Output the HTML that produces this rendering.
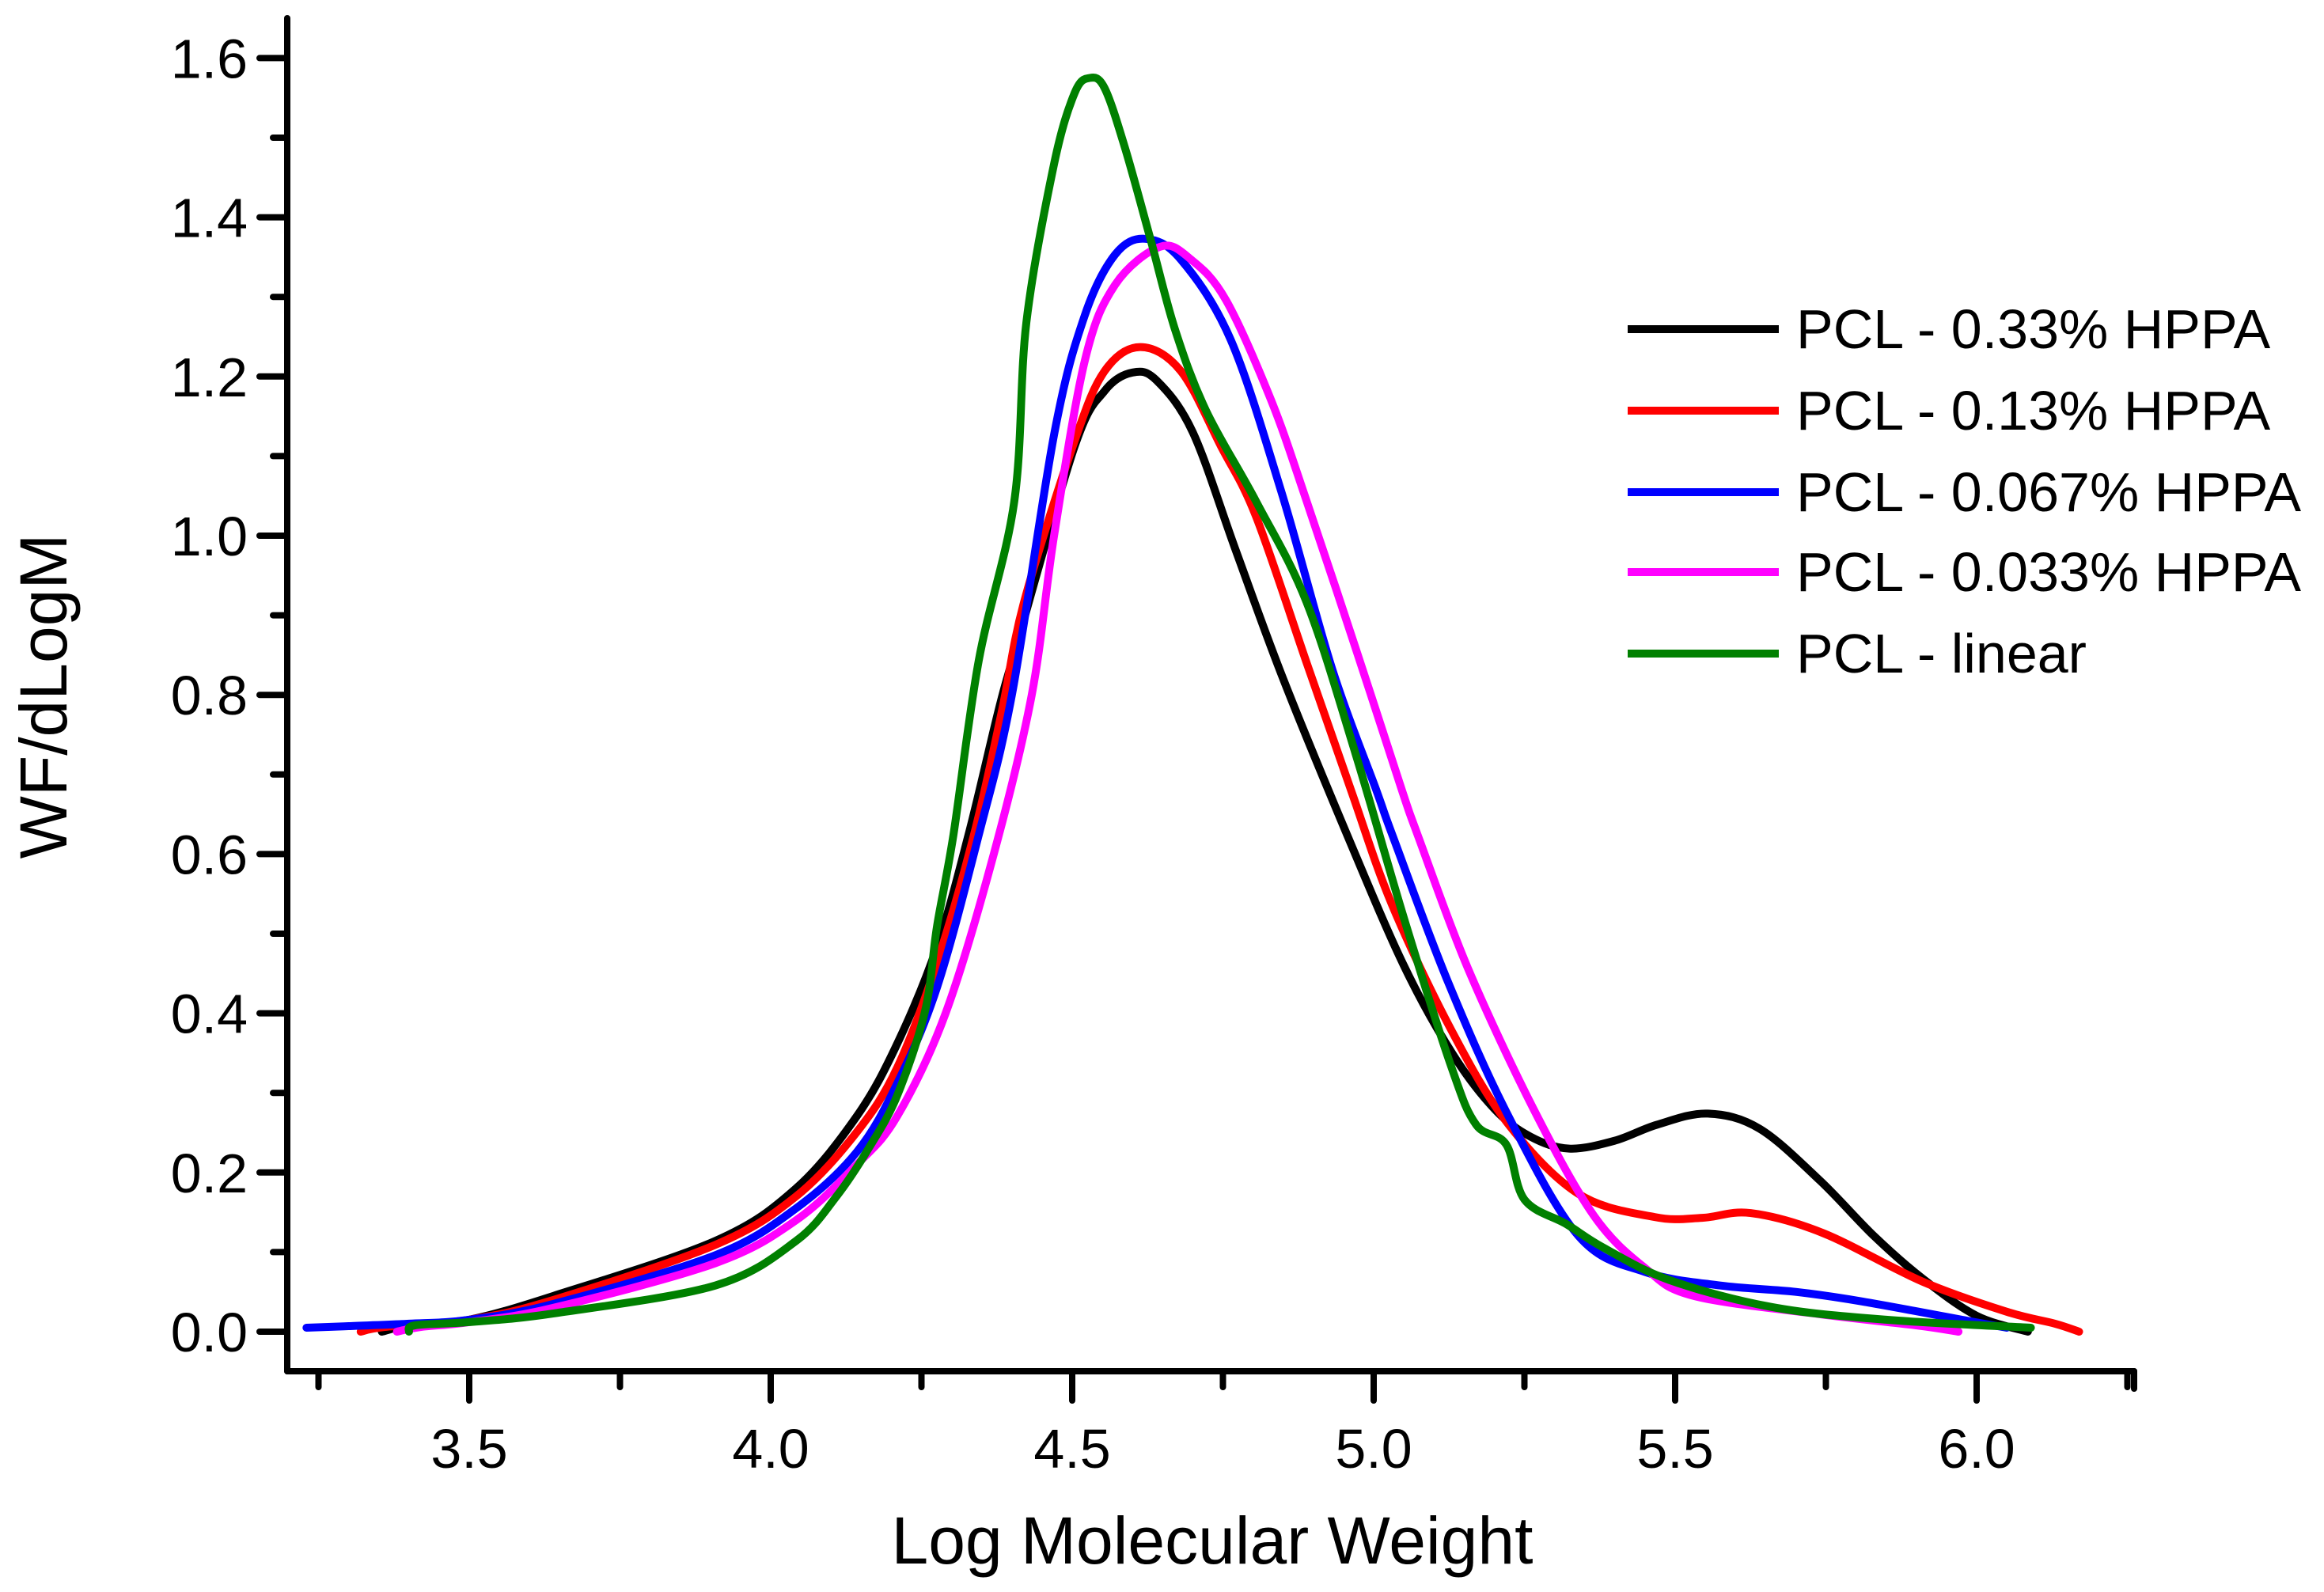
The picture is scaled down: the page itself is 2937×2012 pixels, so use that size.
<!DOCTYPE html>
<html><head><meta charset="utf-8"><style>
html,body{margin:0;padding:0;background:#fff;}
svg{display:block;}
text{font-family:"Liberation Sans",Arial,sans-serif;fill:#000;}
</style></head><body>
<svg id="chart" width="2937" height="2012" viewBox="0 0 2937 2012" xmlns="http://www.w3.org/2000/svg">
<g id="axes"></g>
<g id="series"></g>
<g id="legend"></g>
<text x="1532" y="1976" font-size="84" text-anchor="middle">Log Molecular Weight</text>
<text x="0" y="0" font-size="84" text-anchor="middle" transform="translate(84,880) rotate(-90)">WF/dLogM</text>
</svg>
<script>
const xTicks=[3.5,4.0,4.5,5.0,5.5,6.0];
const xTickLabels=["3.5","4.0","4.5","5.0","5.5","6.0"];
const yTicks=[0,0.2,0.4,0.6,0.8,1.0,1.2,1.4,1.6];
const yTickLabels=["0.0","0.2","0.4","0.6","0.8","1.0","1.2","1.4","1.6"];
const seriesNames=["PCL - 0.33% HPPA","PCL - 0.13% HPPA","PCL - 0.067% HPPA","PCL - 0.033% HPPA","PCL - linear"];
const seriesColors=["#000000","#ff0000","#0000ff","#ff00ff","#008000"];
const blackX=[3.355,3.4,3.5,3.64,3.908,4.042,4.143,4.21,4.276,4.328,4.377,4.404,4.504,4.554,4.6,4.64,4.7,4.772,4.85,4.956,5.05,5.13,5.2,5.26,5.324,5.4,5.47,5.554,5.64,5.74,5.83,5.91,6.0,6.085];
const blackY=[0,0.008,0.015,0.045,0.114,0.18,0.271,0.362,0.484,0.624,0.778,0.852,1.112,1.182,1.205,1.195,1.13,0.98,0.82,0.624,0.46,0.35,0.28,0.245,0.23,0.24,0.26,0.274,0.255,0.19,0.12,0.067,0.02,0.0];
const redX=[3.32,3.36,3.5,3.64,3.908,4.042,4.143,4.21,4.276,4.337,4.383,4.42,4.504,4.554,4.613,4.68,4.747,4.805,4.889,4.963,5.03,5.13,5.223,5.34,5.466,5.545,5.625,5.745,5.91,6.05,6.13,6.17];
const redY=[0,0.006,0.015,0.04,0.109,0.17,0.251,0.332,0.464,0.624,0.778,0.916,1.119,1.207,1.237,1.207,1.112,1.024,0.84,0.679,0.537,0.377,0.261,0.173,0.144,0.143,0.149,0.124,0.063,0.025,0.01,0.0];
const blueX=[3.23,3.3,3.4,3.5,3.64,3.908,4.042,4.143,4.21,4.276,4.345,4.40,4.471,4.521,4.571,4.621,4.68,4.763,4.847,4.931,5.005,5.031,5.123,5.224,5.34,5.45,5.575,5.7,5.81,5.99,6.05];
const blueY=[0.005,0.007,0.01,0.015,0.035,0.096,0.155,0.226,0.312,0.433,0.624,0.8,1.131,1.277,1.353,1.373,1.347,1.246,1.055,0.833,0.679,0.624,0.44,0.27,0.12,0.075,0.058,0.05,0.038,0.013,0.005];
const magentaX=[3.38,3.42,3.5,3.64,3.908,4.042,4.143,4.21,4.29,4.37,4.433,4.47,4.521,4.571,4.646,4.697,4.755,4.83,4.889,4.973,5.047,5.073,5.156,5.265,5.365,5.45,5.53,5.74,5.9,5.97];
const magentaY=[0,0.006,0.012,0.03,0.086,0.14,0.21,0.271,0.4,0.6,0.8,1.0,1.22,1.315,1.363,1.347,1.296,1.17,1.043,0.852,0.68,0.624,0.457,0.28,0.146,0.08,0.045,0.022,0.008,0.0];
const greenX=[3.4,3.41,3.5,3.64,3.908,4.042,4.109,4.163,4.21,4.256,4.276,4.303,4.345,4.404,4.424,4.47,4.504,4.529,4.554,4.588,4.63,4.671,4.722,4.805,4.889,4.97,5.05,5.13,5.17,5.22,5.25,5.32,5.38,5.49,5.66,5.85,6.09];
const greenY=[0,0.008,0.012,0.023,0.058,0.114,0.17,0.231,0.297,0.403,0.51,0.624,0.843,1.043,1.268,1.467,1.556,1.575,1.562,1.486,1.372,1.258,1.157,1.043,0.916,0.726,0.52,0.33,0.26,0.235,0.166,0.135,0.106,0.065,0.031,0.015,0.005];

const X0=3.5, PX0=593, PXU=762;
const PY0=1683, PYU=1006;
function xs(v){return PX0+(v-X0)*PXU;}
function ys(v){return PY0-v*PYU;}
const NS="http://www.w3.org/2000/svg";
function mk(tag,attrs,parent){const e=document.createElementNS(NS,tag);for(const k in attrs)e.setAttribute(k,attrs[k]);parent.appendChild(e);return e;}
const axes=document.getElementById('axes');
const AX_L=363, AX_B=1733, AX_T=23, AX_R=2697;
let a=mk('line',{x1:AX_L,y1:AX_T,x2:AX_L,y2:AX_B,stroke:'#000','stroke-width':8,'stroke-linecap':'round'},axes);


a=mk('line',{x1:AX_L,y1:AX_B,x2:AX_R,y2:AX_B,stroke:'#000','stroke-width':8,'stroke-linecap':'round'},axes);


a=mk('line',{x1:AX_R,y1:AX_B,x2:AX_R,y2:AX_B+22,stroke:'#000','stroke-width':8,'stroke-linecap':'round'},axes);


for(let i=0;i<xTicks.length;i++){
  const x=xs(xTicks[i]);
  let t=mk('line',{x1:x,y1:AX_B,x2:x,y2:AX_B+37,stroke:'#000','stroke-width':8,'stroke-linecap':'round'},axes);
  
  
  let m=mk('line',{x1:xs(xTicks[i]-0.25),y1:AX_B,x2:xs(xTicks[i]-0.25),y2:AX_B+20,stroke:'#000','stroke-width':8,'stroke-linecap':'round'},axes);
  
  
  let l=mk('text',{x:x,y:AX_B+122,'font-size':70,'text-anchor':'middle'},axes);
  l.textContent=xTickLabels[i];
  
  
}
let m2=mk('line',{x1:xs(6.25),y1:AX_B,x2:xs(6.25),y2:AX_B+20,stroke:'#000','stroke-width':8,'stroke-linecap':'round'},axes);


for(let i=0;i<yTicks.length;i++){
  const y=ys(yTicks[i]);
  let t=mk('line',{x1:AX_L-35,y1:y,x2:AX_L,y2:y,stroke:'#000','stroke-width':8,'stroke-linecap':'round'},axes);
  
  
  if(i<yTicks.length-1){
    let m=mk('line',{x1:AX_L-18,y1:ys(yTicks[i]+0.1),x2:AX_L,y2:ys(yTicks[i]+0.1),stroke:'#000','stroke-width':8,'stroke-linecap':'round'},axes);
    
    
  }
  let l=mk('text',{x:AX_L-50,y:y+25,'font-size':70,'text-anchor':'end'},axes);
  l.textContent=yTickLabels[i];
  
  
}
function pathFor(X,Y){
  const p=X.map((x,i)=>[xs(x),ys(Y[i])]);
  let d='M'+p[0][0].toFixed(1)+','+p[0][1].toFixed(1);
  for(let i=0;i<p.length-1;i++){
    const p0=p[i-1]||p[i],p1=p[i],p2=p[i+1],p3=p[i+2]||p[i+1];
    const c1=[p1[0]+(p2[0]-p0[0])/6,p1[1]+(p2[1]-p0[1])/6];
    const c2=[p2[0]-(p3[0]-p1[0])/6,p2[1]-(p3[1]-p1[1])/6];
    d+=' C'+c1[0].toFixed(1)+','+c1[1].toFixed(1)+' '+c2[0].toFixed(1)+','+c2[1].toFixed(1)+' '+p2[0].toFixed(1)+','+p2[1].toFixed(1);
  }
  return d;
}
const sg=document.getElementById('series');
const allX=[blackX,redX,blueX,magentaX,greenX], allY=[blackY,redY,blueY,magentaY,greenY];
const sNames=['series-0.33-hppa','series-0.13-hppa','series-0.067-hppa','series-0.033-hppa','series-linear'];
for(let s=0;s<5;s++){
  let p=mk('path',{d:pathFor(allX[s],allY[s]),fill:'none',stroke:seriesColors[s],'stroke-width':10,'stroke-linejoin':'round','stroke-linecap':'round'},sg);
  
  
}
const lg=document.getElementById('legend');
const legY=[416,519,622,723,826];
for(let s=0;s<5;s++){
  let g=mk('g',{},lg);
  
  
  let l=mk('line',{x1:2057,y1:legY[s],x2:2248,y2:legY[s],stroke:seriesColors[s],'stroke-width':10},g);
  
  
  let t=mk('text',{x:2270,y:legY[s]+24,'font-size':70},g);
  t.textContent=seriesNames[s];
  
  
}
</script>
</body></html>
